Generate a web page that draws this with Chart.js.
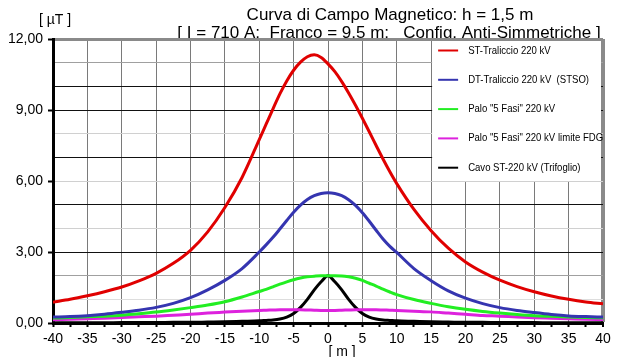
<!DOCTYPE html>
<html>
<head>
<meta charset="utf-8">
<script src="https://cdn.jsdelivr.net/npm/chart.js@4/dist/chart.umd.min.js"></script>
<style>
html,body{margin:0;padding:0;background:#fff;}
#wrap{width:626px;height:357px;position:relative;}
</style>
</head>
<body>
<div id="wrap"><canvas id="c" width="626" height="357"></canvas></div>
<script>
// distance from axis [m]
const positions = [-40,-37.5,-35,-32.5,-30,-27.5,-25,-22.5,-20,-17.5,-15,-12.5,
  -10,-9,-8,-7,-6,-5,-4,-3,-2,-1,0,1,2,3,4,5,6,7,8,9,10,
  12.5,15,17.5,20,22.5,25,27.5,30,32.5,35,37.5,40];

const seriesNames = [
  'ST-Traliccio 220 kV',
  'DT-Traliccio 220 kV  (STSO)',
  'Palo "5 Fasi" 220 kV',
  'Palo "5 Fasi" 220 kV limite FDG',
  'Cavo ST-220 kV (Trifoglio)'
];

const stTraliccio = [0.88,1.00,1.15,1.32,1.52,1.78,2.10,2.52,3.07,3.85,4.88,6.15,
  7.75,8.40,9.05,9.68,10.23,10.68,11.02,11.25,11.33,11.22,10.95,10.62,10.20,9.72,9.20,8.65,8.08,7.50,6.93,6.39,5.89,
  4.80,3.90,3.16,2.58,2.15,1.81,1.54,1.32,1.14,1.00,0.89,0.81];

const dtTraliccio = [0.25,0.27,0.31,0.37,0.45,0.54,0.66,0.83,1.07,1.40,1.80,2.30,
  3.00,3.30,3.62,3.97,4.33,4.68,4.98,5.22,5.38,5.47,5.50,5.47,5.38,5.21,4.97,4.66,4.30,3.92,3.55,3.24,2.98,
  2.30,1.79,1.36,1.05,0.82,0.65,0.53,0.44,0.36,0.30,0.27,0.25];

const palo5Fasi = [0.21,0.23,0.26,0.29,0.33,0.39,0.46,0.55,0.65,0.76,0.90,1.10,
  1.33,1.42,1.53,1.64,1.74,1.83,1.90,1.95,1.98,2.00,2.00,2.00,1.99,1.95,1.89,1.80,1.68,1.56,1.43,1.31,1.20,
  0.99,0.83,0.69,0.58,0.49,0.42,0.36,0.31,0.28,0.25,0.23,0.22];

const palo5FasiFDG = [0.14,0.16,0.18,0.20,0.23,0.26,0.29,0.33,0.37,0.42,0.46,0.50,
  0.53,0.54,0.55,0.56,0.56,0.56,0.56,0.55,0.54,0.53,0.53,0.53,0.54,0.55,0.56,0.56,0.56,0.56,0.55,0.54,0.53,
  0.50,0.47,0.42,0.37,0.32,0.29,0.25,0.22,0.20,0.18,0.16,0.15];

const cavoTrifoglio = [0.01,0.01,0.01,0.01,0.02,0.02,0.02,0.03,0.03,0.04,0.05,0.07,
  0.09,0.11,0.13,0.17,0.25,0.40,0.66,1.00,1.40,1.74,2.00,1.74,1.40,1.00,0.66,0.40,0.25,0.17,0.13,0.11,0.09,
  0.07,0.05,0.04,0.03,0.03,0.02,0.02,0.02,0.01,0.01,0.01,0.01];

const seriesValues = [stTraliccio, dtTraliccio, palo5Fasi, palo5FasiFDG, cavoTrifoglio];
const seriesColors = ['#e00000', '#3535b0', '#22ee22', '#dd22dd', '#000000'];

const titleLines = ['Curva di Campo Magnetico: h = 1,5 m',
  '[ I = 710 A;  Franco = 9,5 m;   Config. Anti-Simmetriche ]'];
const yUnit = '[ \u00b5T ]';
const xUnit = '[ m ]';

const FONT = "'Liberation Sans', Arial, sans-serif";

// y gridline styling per value (mimics the reference rendering)
const yGridStyle = {12:['#8a8a8a',3],11:['#a0a0a0',1],10:['#111',1],9:['#111',1],8:['#d0d0d0',1],
  7:['#111',1],6:['#d0d0d0',1],5:['#111',1],4:['#d0d0d0',1],3:['#111',1],2:['#a0a0a0',1],1:['#dddddd',1],0:['#000',1]};

const textPlugin = {
  id: 'texts',
  beforeDraw(chart) {
    const ctx = chart.ctx;
    ctx.save();
    ctx.fillStyle = '#000';
    ctx.textAlign = 'center';
    ctx.textBaseline = 'alphabetic';
    ctx.font = '17px ' + FONT;
    ctx.fillText(titleLines[0], 390, 20);
    ctx.fillText(titleLines[1], 389, 38);
    ctx.font = '14px ' + FONT;
    ctx.fillText(yUnit, 55, 24);
    ctx.fillText(xUnit, 342, 356);
    ctx.restore();
  }
};

const legendPlugin = {
  id: 'boxLegend',
  beforeDatasetsDraw(chart) {
    const ctx = chart.ctx;
    const xs = chart.scales.x, ys = chart.scales.y, a = chart.chartArea;
    const left = xs.getPixelForValue(15);
    const bottom = ys.getPixelForValue(6);
    ctx.save();
    ctx.fillStyle = '#fff';
    ctx.fillRect(left + 1, a.top + 2, a.right - left - 3, bottom - a.top - 2);
    ctx.font = '11px ' + FONT;
    ctx.textBaseline = 'middle';
    ctx.textAlign = 'left';
    chart.data.datasets.forEach((ds, i) => {
      const y = a.top + 11.5 + i * 29.3;
      ctx.strokeStyle = ds.borderColor;
      ctx.lineWidth = 2;
      ctx.beginPath();
      ctx.moveTo(left + 7, y);
      ctx.lineTo(left + 27, y);
      ctx.stroke();
      ctx.fillStyle = '#000';
      ctx.save();
      ctx.translate(left + 37, y);
      ctx.scale(0.87, 1);
      ctx.fillText(ds.label, 0, 0);
      ctx.restore();
    });
    ctx.restore();
  }
};

new Chart(document.getElementById('c'), {
  type: 'line',
  data: {
    datasets: seriesNames.map((name, i) => ({
      label: name,
      data: positions.map((x, j) => ({x: x, y: seriesValues[i][j]})),
      borderColor: seriesColors[i],
      backgroundColor: seriesColors[i],
      borderWidth: 3,
      pointRadius: 0,
      fill: false,
      cubicInterpolationMode: 'monotone'
    }))
  },
  options: {
    responsive: false,
    animation: false,
    devicePixelRatio: 1,
    layout: {padding: {top: 39, right: 23, left: 0, bottom: 0}},
    plugins: {legend: {display: false}, title: {display: false}, tooltip: {enabled: false}},
    scales: {
      x: {
        type: 'linear', min: -40, max: 40,
        afterFit(s) { s.height = 34; },
        ticks: {
          stepSize: 2.5, autoSkip: false, maxRotation: 0, padding: 4,
          color: '#000', font: {family: FONT, size: 14},
          callback: v => (v % 5 === 0 ? String(v) : '')
        },
        grid: {
          color: c => {
            const v = c.tick ? c.tick.value : 0;
            if (v === 40) return '#8a8a8a';
            return v % 5 === 0 ? '#7a7a7a' : 'rgba(0,0,0,0)';
          },
          lineWidth: c => (c.tick && c.tick.value === 40 ? 4 : 1),
          tickColor: '#000', tickWidth: 2, tickLength: 4
        },
        border: {color: '#000', width: 3}
      },
      y: {
        min: 0, max: 12,
        afterFit(s) { s.width = 53; },
        ticks: {
          stepSize: 1, autoSkip: false, padding: 5,
          color: '#000', font: {family: FONT, size: 14},
          callback: v => (v % 3 === 0 ? v.toFixed(2).replace('.', ',') : '')
        },
        grid: {
          color: c => { const s = yGridStyle[c.tick ? c.tick.value : 0]; return s ? s[0] : '#999'; },
          lineWidth: c => { const s = yGridStyle[c.tick ? c.tick.value : 0]; return s ? s[1] : 1; },
          tickColor: c => (c.tick && c.tick.value % 3 === 0 ? '#000' : 'rgba(0,0,0,0)'),
          tickWidth: 2, tickLength: 5
        },
        border: {color: '#000', width: 3}
      }
    }
  },
  plugins: [textPlugin, legendPlugin]
});
</script>
</body>
</html>
